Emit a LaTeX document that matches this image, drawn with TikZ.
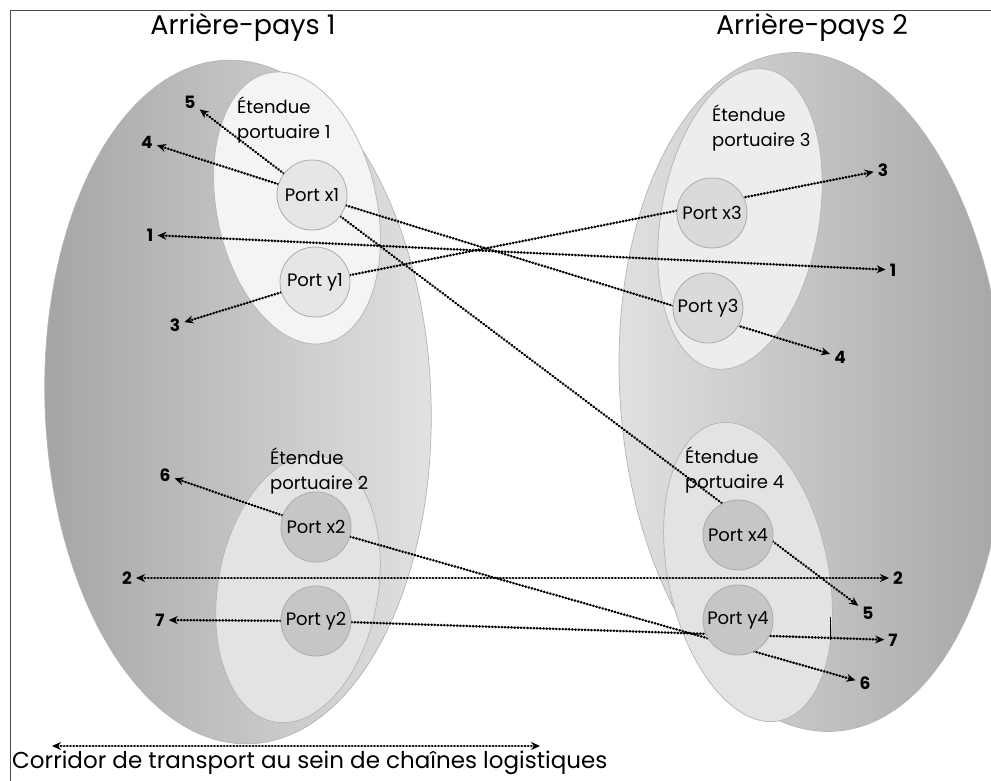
\documentclass[tikz,border=0pt]{standalone}
\usepackage{fontspec}
\setmainfont{Poppins}
\usetikzlibrary{arrows.meta}
\pgfdeclarelayer{bg}
\pgfdeclarelayer{lines}
\pgfsetlayers{bg,lines,main}
\definecolor{gdark}{HTML}{A4A4A4}
\definecolor{glight}{HTML}{E2E2E2}
\definecolor{gedge}{HTML}{B4B4B4}
\definecolor{innerA}{HTML}{F4F4F4}
\definecolor{innerB}{HTML}{E3E3E3}
\definecolor{portA}{HTML}{E6E6E6}
\definecolor{portB}{HTML}{C6C6C6}
\definecolor{portedge}{HTML}{ABABAB}
\begin{document}
\begin{tikzpicture}[x=1pt,y=-1pt,
  porta/.style={circle, minimum size=70pt, inner sep=0pt, draw=portedge, line width=0.8pt, fill=portA, font=\fontsize{18}{18}\selectfont},
  portb/.style={porta, fill=portB},
  num/.style={font=\bfseries\fontsize{17}{17}\selectfont, inner sep=4pt},
  etext/.style={align=left, anchor=west, inner sep=0pt, font=\fontsize{18}{25}\selectfont},
  titletext/.style={font=\fontsize{27}{27}\selectfont, inner sep=0pt},
  dotarrow/.style={line width=2.5pt, line cap=round, dash pattern=on 0.5pt off 2.7pt, -{Stealth[length=9pt,width=8pt]}},
  dotboth/.style={dotarrow, {Stealth[length=9pt,width=8pt]}-{Stealth[length=9pt,width=8pt]}},
  rimline/.style={draw=gedge, line width=0.7pt}
]
\useasboundingbox (0,0) rectangle (991,781);

\begin{pgfonlayer}{bg}
  \clip (0,0) rectangle (991,781);
  \fill[white] (0,0) rectangle (991,781);
  % big hinterland ellipses
  \shade[left color=gdark, right color=glight, rimline, rotate around={2:(238,402)}] (238,402) ellipse [x radius=193, y radius=342];
  \shade[left color=glight, right color=gdark, rimline, rotate around={4:(812,392)}] (812,392) ellipse [x radius=192, y radius=340];
  % port extents
  \fill[innerA, rimline, rotate around={12:(297,208)}] (297,208) ellipse [x radius=80, y radius=138];
  \fill[innerA!97!black, rimline, rotate around={-10:(740,219)}] (740,219) ellipse [x radius=79, y radius=152];
  \fill[innerB, rimline, rotate around={-10:(298,589)}] (298,589) ellipse [x radius=80, y radius=135];
  \fill[innerB, rimline, rotate around={12:(748,572)}] (748,572) ellipse [x radius=80, y radius=152];
\end{pgfonlayer}

% frame
\draw[line width=0.9pt, draw=black!70] (10,781) -- (10,10) -- (991,10);

% titles
\node[titletext] (t1) at (243,27) {Arrière-pays 1};
\node[titletext] (t2) at (812,27) {Arrière-pays 2};

% extent labels
\node[etext] (e1) at (237,120) {Étendue\\portuaire 1};
\node[etext] (e3) at (712,128) {Étendue\\portuaire 3};
\node[etext] (e2) at (270,471) {Étendue\\portuaire 2};
\node[etext] (e4) at (685,470) {Étendue\\portuaire 4};

% ports
\node[porta] (x1) at (312,195) {Port x1};
\node[porta] (y1) at (315,282) {Port y1};
\node[porta, fill=portA!95!black] (x3) at (712,213) {Port x3};
\node[porta, fill=portA!95!black] (y3) at (708,308) {Port y3};
\node[portb] (x2) at (316,527) {Port x2};
\node[portb] (y2) at (316,621) {Port y2};
\node[portb] (x4) at (738,535) {Port x4};
\node[portb] (y4) at (738,620) {Port y4};

% destination numbers
\node[num] (l5) at (190,102) {5};
\node[num] (l4) at (147,142) {4};
\node[num] (l1) at (150,235) {1};
\node[num] (l3) at (175,325) {3};
\node[num] (l6) at (165,475) {6};
\node[num] (l2) at (127,578) {2};
\node[num] (l7) at (160,620) {7};
\node[num] (r3) at (883,170) {3};
\node[num] (r1) at (893,270) {1};
\node[num] (r4) at (840,357) {4};
\node[num] (r2) at (898,578) {2};
\node[num] (r5) at (868,613) {5};
\node[num] (r7) at (893,640) {7};
\node[num] (r6) at (865,683) {6};

% corridor legend
\node[font=\fontsize{23}{23}\selectfont, anchor=base west, inner sep=0pt] (ct) at (12,768) {Corridor de transport au sein de chaînes logistiques};
\coordinate (ca) at (52,746);
\coordinate (cb) at (540,746);
\coordinate (tk1) at (830,617);
\coordinate (tk2) at (830,640);

\begin{pgfonlayer}{lines}
  \draw[dotarrow] (x1) -- (l5);
  \draw[dotarrow] (x1) -- (l4);
  \draw[dotarrow] (y1) -- (l3);
  \draw[dotarrow] (x2) -- (l6);
  \draw[dotarrow] (y2) -- (l7);
  \draw[dotboth] (l1) -- (r1);
  \draw[dotboth] (l2) -- (r2);
  \draw[dotarrow] (y1) -- (r3);
  \draw[dotarrow] (x1) -- (r4);
  \draw[dotarrow] (x1) -- (r5);
  \draw[dotarrow] (x2) -- (r6);
  \draw[dotarrow] (y2) -- (r7);
  \draw[dotboth] (ca) -- (cb);
  \draw[line width=0.9pt] (tk1) -- (tk2);
\end{pgfonlayer}
\end{tikzpicture}
\end{document}
